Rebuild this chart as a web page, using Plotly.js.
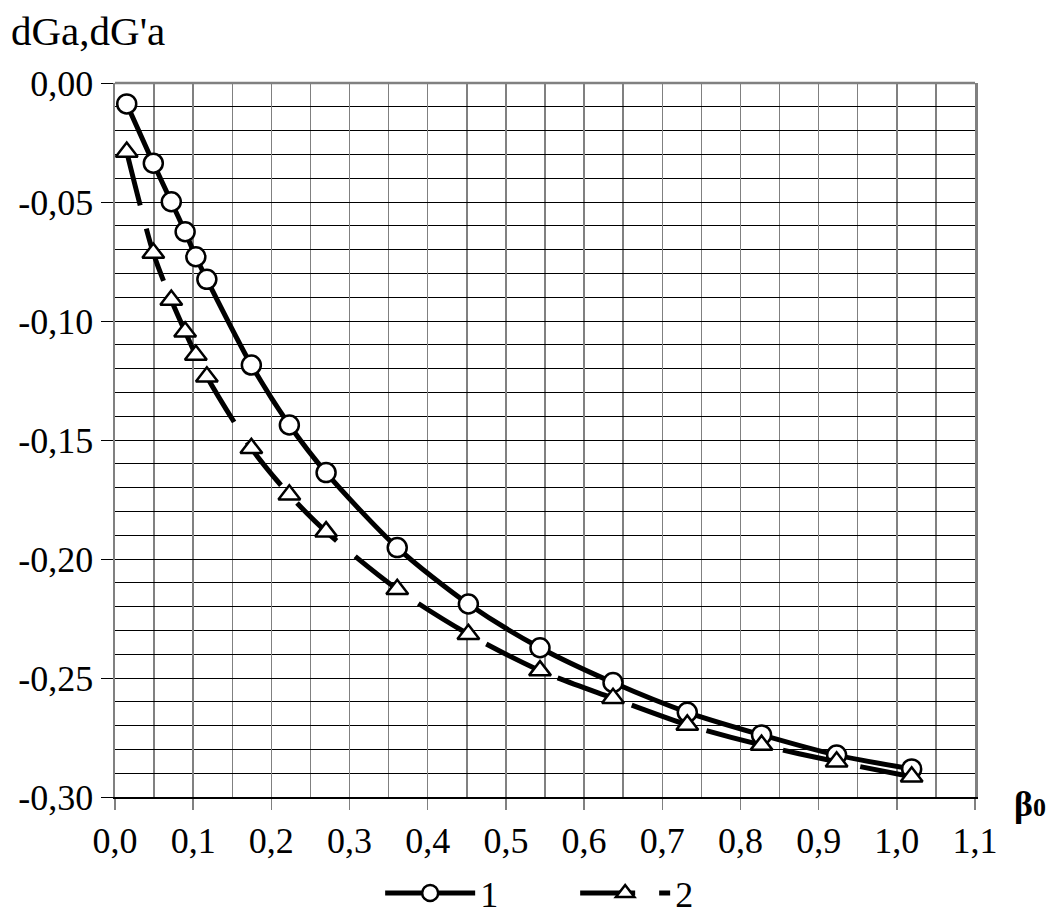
<!DOCTYPE html>
<html>
<head>
<meta charset="utf-8">
<script src="https://cdn.plot.ly/plotly-3.0.1.min.js"></script>
<style>html,body{margin:0;padding:0;background:#fff;}#chart{width:1056px;height:915px;}</style>
</head>
<body>
<div id="chart"></div>
<script>
// Data
var beta0 = [0.015, 0.049, 0.072, 0.0897, 0.1034, 0.1175, 0.1744, 0.223, 0.270, 0.361, 0.452, 0.5436, 0.637, 0.732, 0.827, 0.923, 1.019];
var dGa   = [-0.0088, -0.0337, -0.0499, -0.0625, -0.0730, -0.0825, -0.1185, -0.1437, -0.1637, -0.1952, -0.2189, -0.2373, -0.2519, -0.2644, -0.2739, -0.2824, -0.2882];
var dGa2  = [-0.0290, -0.0714, -0.0912, -0.1045, -0.1143, -0.1234, -0.1535, -0.1730, -0.1885, -0.2127, -0.2316, -0.2469, -0.2585, -0.2697, -0.2782, -0.2852, -0.2915];
var seriesNames = ['1', '2'];
var xTickVals = [0, 0.1, 0.2, 0.3, 0.4, 0.5, 0.6, 0.7, 0.8, 0.9, 1.0, 1.1];
var xTickText = ['0,0','0,1','0,2','0,3','0,4','0,5','0,6','0,7','0,8','0,9','1,0','1,1'];
var yTickVals = [0, -0.05, -0.10, -0.15, -0.20, -0.25, -0.30];
var yTickText = ['0,00','-0,05','-0,10','-0,15','-0,20','-0,25','-0,30'];
var yTitle = "dGa,dG'a";
var xTitle = 'β<span style="font-size:26px">0</span>';

var FONT = '"Liberation Serif", "Times New Roman", serif';

var traces = [
  {
    x: beta0, y: dGa, name: seriesNames[0], type: 'scatter', mode: 'lines+markers',
    line: {color: '#000', width: 5, shape: 'spline', smoothing: 0.8},
    marker: {symbol: 'circle', size: 19, color: '#fff', line: {color: '#000', width: 2.5}}
  },
  {
    x: beta0, y: dGa2, name: seriesNames[1], type: 'scatter', mode: 'lines+markers',
    line: {color: '#000', width: 5, shape: 'spline', smoothing: 0.8, dash: '55px,24px'},
    marker: {symbol: 'triangle-up', size: 19, color: '#fff', line: {color: '#000', width: 2.5}}
  }
];

var layout = {
  width: 1056, height: 915,
  margin: {l: 115, r: 81, t: 83, b: 118},
  paper_bgcolor: '#fff', plot_bgcolor: '#fff',
  font: {family: FONT, size: 36, color: '#000'},
  showlegend: true,
  legend: {
    orientation: 'h', xref: 'container', yref: 'container',
    x: 0.36, xanchor: 'left', y: 0.024, yanchor: 'middle',
    font: {family: FONT, size: 36, color: '#000'},
    itemwidth: 90, entrywidth: 90, entrywidthmode: 'pixels',
    bgcolor: 'rgba(0,0,0,0)'
  },
  xaxis: {
    range: [0, 1.1], tickvals: xTickVals, ticktext: xTickText,
    showgrid: true, gridcolor: '#808080', gridwidth: 1.5,
    minor: {dtick: 0.05, tick0: 0, showgrid: true, gridcolor: '#808080', gridwidth: 1.5, ticks: ''},
    ticks: 'outside', ticklen: 11, tickcolor: '#808080', tickwidth: 1.5,
    showline: true, linecolor: '#000', linewidth: 2,
    zeroline: false, tickfont: {family: FONT, size: 36, color: '#000'}
  },
  yaxis: {
    range: [-0.30, 0], tickvals: yTickVals, ticktext: yTickText,
    showgrid: true, gridcolor: '#000', gridwidth: 1,
    minor: {dtick: 0.01, tick0: 0, showgrid: true, gridcolor: '#000', gridwidth: 1, ticks: ''},
    ticks: 'outside', ticklen: 12, tickcolor: '#000', tickwidth: 1,
    showline: true, linecolor: '#808080', linewidth: 2.5, mirror: true,
    zeroline: false, tickfont: {family: FONT, size: 36, color: '#000'}
  },
  shapes: [
    {type: 'line', xref: 'paper', yref: 'paper', x0: 0, x1: 1, y0: 1, y1: 1, line: {color: '#808080', width: 2.5}, layer: 'above'}
  ],
  annotations: [
    {text: yTitle, xref: 'paper', yref: 'paper', x: -0.123, y: 1.038, xanchor: 'left', yanchor: 'bottom', showarrow: false,
     font: {family: FONT, size: 41, color: '#000'}},
    {text: '<b>' + xTitle + '</b>', xref: 'paper', yref: 'paper', x: 1.043, y: -0.01, xanchor: 'left', yanchor: 'middle', showarrow: false,
     font: {family: FONT, size: 36, color: '#000'}}
  ]
};

Plotly.newPlot('chart', traces, layout, {displayModeBar: false, staticPlot: true});
</script>
</body>
</html>
